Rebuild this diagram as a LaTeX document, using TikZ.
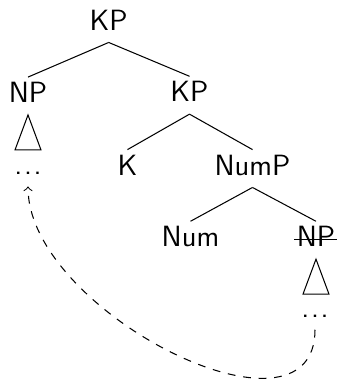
\documentclass[tikz,border=0pt]{standalone}
\usepackage{tikz}

\newcommand{\gapdots}{.\kern0.6pt.\kern0.6pt.}

\begin{document}
\begin{tikzpicture}[x=0.3856pt,y=-0.3856pt,
  every node/.style={anchor=base,inner xsep=0.8pt,inner ysep=2.5pt,
    text height=7.1pt,text depth=2.1pt}]
\useasboundingbox (0,0) rectangle (337,381);
\sffamily\fontsize{11.3}{13}\selectfont
\node (kp1) at (108.7,30) {KP};
\node (np1) at (28,102.5) {NP};
\node (kp2) at (189.5,101.7) {KP};
\node (k) at (127.5,175) {K};
\node (nump) at (252.5,175) {NumP};
\node (num) at (190.5,246.7) {Num};
\node (np2) at (316,246.7) {NP};
\node (dots1) at (28,174) {\gapdots};
\node (dots2) at (315,317.3) {\gapdots};
\draw (kp1.south)--(np1.north);
\draw (kp1.south)--(kp2.north);
\draw (kp2.south)--(k.north);
\draw (kp2.south)--(nump.north);
\draw (nump.south)--(num.north);
\draw (nump.south)--(np2.north);

%% triangles
\draw (np1.south) -- ++(-13,35) -- ++(26,0) -- cycle;
\draw (np2.south) -- ++(-13,35) -- ++(26,0) -- cycle;

%% struck out copy
\draw ([yshift=2.7pt]np2.base west) -- ([yshift=2.7pt]np2.base east);

%% movement
\draw[dashed,->] (dots2.south) to[out=-90,in=-90] (dots1.south);
\end{tikzpicture}
\end{document}
